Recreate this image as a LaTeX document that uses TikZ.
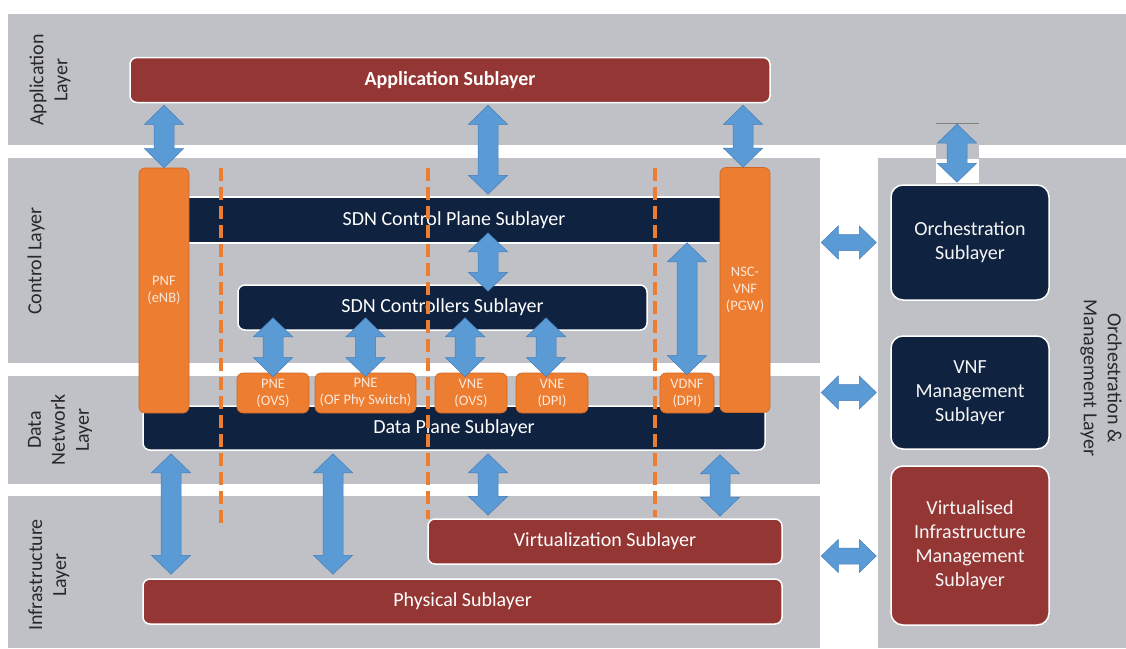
\documentclass[tikz,border=0pt]{standalone}
\usepackage{fontspec}
\setmainfont{Carlito}
\usetikzlibrary{calc}

\definecolor{bandgray}{RGB}{191,193,198}
\definecolor{navy}{RGB}{15,34,63}
\definecolor{brick}{RGB}{148,54,52}
\definecolor{tangerine}{RGB}{237,125,49}
\definecolor{tangerineedge}{RGB}{205,105,40}
\definecolor{skyblue}{RGB}{91,155,213}
\definecolor{skyedge}{RGB}{70,125,185}
\definecolor{labelgray}{RGB}{40,40,40}

% vertical double-headed block arrow from #1 (top) to #2 (bottom)
\newcommand{\vbiarrow}[2]{%
  \path[blockarrow] let \p1=(#1), \p2=(#2) in
    (\x1,\y1) -- ++(19.5pt,-19pt) -- ++(-9.5pt,0pt) -- (\x1+10pt,\y2+19pt)
    -- ++(9.5pt,0pt) -- (\x1,\y2) -- ++(-19.5pt,19pt) -- ++(9.5pt,0pt)
    -- (\x1-10pt,\y1-19pt) -- ++(-9.5pt,0pt) -- cycle;}
% horizontal double-headed block arrow from #1 (left) to #2 (right)
\newcommand{\hbiarrow}[2]{%
  \path[blockarrow] let \p1=(#1), \p2=(#2) in
    (\x1,\y1) -- ++(17pt,16.5pt) -- ++(0pt,-8.5pt) -- (\x2-17pt,\y1+8pt)
    -- ++(0pt,8.5pt) -- (\x2,\y1) -- ++(-17pt,-16.5pt) -- ++(0pt,8.5pt)
    -- (\x1+17pt,\y1-8pt) -- ++(0pt,-8.5pt) -- cycle;}

\begin{document}
\begin{tikzpicture}[x=1pt,y=-1pt,
  band/.style={fill=bandgray},
  layerlabel/.style={text=labelgray, align=center, font=\fontsize{20}{24}\selectfont},
  box/.style={draw=white, line width=1.5pt, rounded corners=7pt, text=white,
    align=center, inner sep=0pt, font=\fontsize{20}{24}\selectfont},
  navybox/.style={box, fill=navy},
  redbox/.style={box, fill=brick},
  mgmtbox/.style={box, rounded corners=12pt, minimum width=158, text=white!92!gray},
  nfbox/.style={draw=tangerineedge, line width=0.6pt, fill=tangerine, rounded corners=6pt,
    text=white!82!tangerine, align=center, inner sep=0pt,
    font=\fontsize{14.5}{17}\selectfont},
  dashline/.style={draw=tangerine, line width=3.4pt, dash pattern=on 13pt off 6pt},
  blockarrow/.style={fill=skyblue, draw=skyedge, line width=0.5pt, line join=miter}]

\useasboundingbox (0,0) rectangle (1126,648);
\fill[white] (0,0) rectangle (1126,648);

% layer bands
\fill[band] (8,14) rectangle (1126,145);
\fill[band] (8,158) rectangle (820,363);
\fill[band] (8,376) rectangle (820,484);
\fill[band] (8,496) rectangle (820,648);
\fill[band] (878,158) rectangle (1126,648);

% layer names
\node[layerlabel, rotate=90] (lapp) at (50,80) {Application\\Layer};
\node[layerlabel, rotate=90] (lctl) at (36,261) {Control Layer};
\node[layerlabel, rotate=90] (ldat) at (60,430) {Data\\Network\\Layer};
\node[layerlabel, rotate=90] (linf) at (49,575) {Infrastructure\\Layer};
\node[layerlabel, rotate=-90] (lorc) at (1101,378) {Orchestration \&\\Management Layer};

% sublayers
\node[redbox, minimum width=640, minimum height=45,
      font=\fontsize{20}{24}\selectfont\bfseries] (app) at (450,80) {Application Sublayer};
\node[navybox, rounded corners=0pt, minimum width=560, minimum height=46] (cp) at (454,220) {SDN Control Plane Sublayer};
\node[navybox, minimum width=409, minimum height=45] (ctrl) at (442.5,307.5) {SDN Controllers Sublayer};
\node[navybox, minimum width=622, minimum height=44] (dp) at (454,428) {Data Plane Sublayer};
\node[redbox, minimum width=354, minimum height=45] (virt) at (605,541.5) {Virtualization Sublayer};
\node[redbox, minimum width=639, minimum height=45] (phys) at (462.5,601.5) {Physical Sublayer};

% management column
\node[mgmtbox, fill=navy, minimum height=115] (orch) at (970,242.5) {Orchestration\\Sublayer};
\node[mgmtbox, fill=navy, minimum height=113] (vnfm) at (970,392.5) {VNF\\Management\\Sublayer};
\node[mgmtbox, fill=brick, minimum height=159] (vim) at (970,545.5) {Virtualised\\Infrastructure\\Management\\Sublayer};

% domain separators
\draw[dashline] (221,168) -- (221,524);
\draw[dashline] (428,168) -- (428,519);
\draw[dashline] (655,168) -- (655,517);

% network functions
\node[nfbox, minimum width=50, minimum height=245] (pnf) at (164,290.5) {PNF\\(eNB)};
\node[nfbox, minimum width=50, minimum height=245] (nsc) at (745,290) {NSC-\\VNF\\(PGW)};
\node[nfbox, minimum width=72, minimum height=40] (pne1) at (273,393) {PNE\\(OVS)};
\node[nfbox, minimum width=101, minimum height=40] (pne2) at (365.5,393) {PNE\\(OF Phy Switch)};
\node[nfbox, minimum width=72, minimum height=40] (vne1) at (471,393) {VNE\\(OVS)};
\node[nfbox, minimum width=72, minimum height=40] (vne2) at (552,393) {VNE\\(DPI)};
\node[nfbox, minimum width=54, minimum height=40] (vdnf) at (687,393) {VDNF\\(DPI)};

% arrow columns and free ends
\coordinate (xA) at (488,0);
\coordinate (xV1) at (465,0);
\coordinate (xV2) at (546,0);
\coordinate (xP1) at (171,0);
\coordinate (xP2) at (333,0);
\coordinate (xV3) at (720,0);
\coordinate (orchtop) at (957,124);

% patch behind the orchestration link
\fill[bandgray] (936,145) rectangle (979,159);
\fill[white] (936,159) rectangle (979,183);
\draw[gray, line width=1pt] (936,123.5) -- (979,123.5);

% vertical links
\vbiarrow{$(app.south -| pnf)+(0,2)$}{pnf.north}
\vbiarrow{$(app.south -| xA)+(0,2)$}{$(cp.north -| xA)+(0,-2)$}
\vbiarrow{$(app.south -| 743,0)+(0,2)$}{nsc.north -| 743,0}
\vbiarrow{orchtop}{$(orch.north -| orchtop)+(0,-2)$}
\vbiarrow{$(cp.south -| xA)+(0,-11)$}{$(ctrl.north -| xA)+(0,7)$}
\vbiarrow{$(ctrl.south -| pne1)+(0,-13)$}{$(pne1.north)+(0,4)$}
\vbiarrow{$(ctrl.south -| pne2)+(0,-13)$}{$(pne2.north)+(0,4)$}
\vbiarrow{$(ctrl.south -| xV1)+(0,-13)$}{$(vne1.north -| xV1)+(0,4)$}
\vbiarrow{$(ctrl.south -| xV2)+(0,-13)$}{$(vne2.north -| xV2)+(0,4)$}
\vbiarrow{$(cp.south -| vdnf)+(0,-1)$}{$(vdnf.north)+(0,2)$}
\vbiarrow{$(dp.south -| xP1)+(0,3)$}{$(phys.north -| xP1)+(0,-4)$}
\vbiarrow{$(dp.south -| xP2)+(0,3)$}{$(phys.north -| xP2)+(0,-4)$}
\vbiarrow{$(dp.south -| xA)+(0,3)$}{$(virt.north -| xA)+(0,-3)$}
\vbiarrow{$(dp.south -| xV3)+(0,4)$}{$(virt.north -| xV3)+(0,-2)$}

% horizontal links to the management column
\hbiarrow{$(orch.west)+(-69,0)$}{$(orch.west)+(-14,0)$}
\hbiarrow{$(vnfm.west)+(-69,0)$}{$(vnfm.west)+(-14,0)$}
\hbiarrow{$(vim.west)+(-69,10.5)$}{$(vim.west)+(-14,10.5)$}
\end{tikzpicture}
\end{document}
